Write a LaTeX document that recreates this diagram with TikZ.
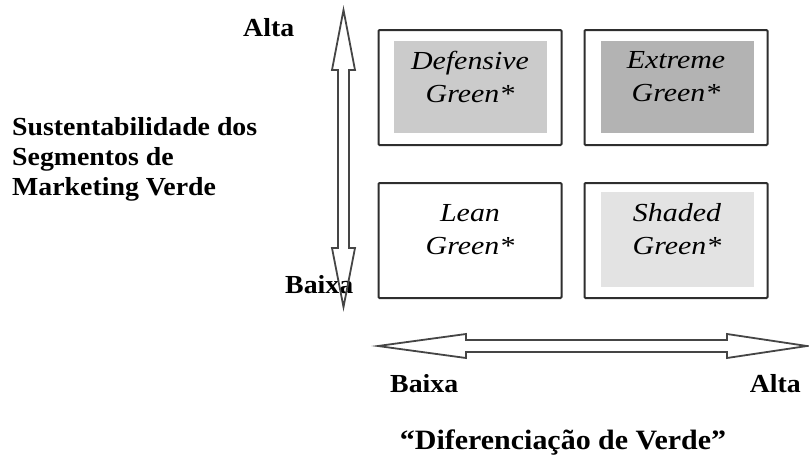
\documentclass[tikz,border=0pt]{standalone}
\usepackage{fontspec}
\setmainfont{Liberation Serif}
\newfontfamily\lblfont{Liberation Serif}[FakeStretch=1.07]
\newfontfamily\cellfont{Liberation Serif}[FakeStretch=1.15]
\definecolor{defgray}{HTML}{CBCBCB}
\definecolor{extgray}{HTML}{B3B3B3}
\definecolor{shdgray}{HTML}{E3E3E3}
\definecolor{edgegray}{HTML}{2E2E2E}
\definecolor{arrowgray}{HTML}{454545}
\begin{document}
\begin{tikzpicture}[x=1pt,y=-1pt,
  outerbox/.style={draw=edgegray,line width=2pt,rounded corners=1pt,minimum width=183pt,minimum height=115pt,inner sep=0pt},
  innerbox/.style={draw=none,minimum width=153pt,minimum height=92pt,inner sep=0pt},
  celltext/.style={font=\cellfont\itshape\fontsize{26}{33}\selectfont,align=center,inner sep=0pt},
  lbl/.style={font=\lblfont\bfseries\fontsize{26}{30}\selectfont,inner sep=0pt},
  titlelbl/.style={font=\lblfont\bfseries\fontsize{28}{33}\selectfont,inner sep=0pt},
  blockarrow/.style={draw=arrowgray,line width=1.8pt,line join=miter}
]
\useasboundingbox (0,0) rectangle (809,458);

% quadrant boxes
\node[outerbox] (dg) at (470,87.5) {};
\node[innerbox,fill=defgray] (dgi) at (470.5,87) {};
\node[celltext] (dgt) at (470,77) {Defensive\\Green*};

\node[outerbox] (eg) at (676,87.5) {};
\node[innerbox,fill=extgray] (egi) at (677,87) {};
\node[celltext] (egt) at (676,77) {Extreme\\Green*};

\node[outerbox] (lg) at (470,240.5) {};
\node[celltext] (lgt) at (470,230) {Lean\\Green*};

\node[outerbox] (sg) at (676,240.5) {};
\node[innerbox,fill=shdgray,minimum height=95pt] (sgi) at (677,239.5) {};
\node[celltext] (sgt) at (677,229.5) {Shaded\\Green*};

% labels
\node[lbl,anchor=base west] (vhigh) at (243,36) {Alta};
\node[lbl,anchor=base west,align=left] (vtitle) at (12,195) {Sustentabilidade dos\\Segmentos de\\Marketing Verde};
\node[lbl,anchor=base west] (vlow) at (285,293) {Baixa};
\node[lbl,anchor=base west] (hlow) at (390,392) {Baixa};
\node[lbl,anchor=base east] (hhigh) at (801,392) {Alta};
\node[titlelbl,anchor=base] (htitle) at (563,449) {“Diferenciação de Verde”};

% vertical double block arrow
\coordinate (vt) at (343.5,10);
\coordinate (vb) at (343.5,307);
\draw[blockarrow] (vt) -- (355,70) -- (349,70) -- (349,248) -- (355,248) -- (vb)
  -- (332,248) -- (338,248) -- (338,70) -- (332,70) -- cycle;

% horizontal double block arrow
\coordinate (hl) at (378,346);
\coordinate (hr) at (807,346);
\draw[blockarrow] (hl) -- (466,334) -- (466,340) -- (727,340) -- (727,334) -- (hr)
  -- (727,358) -- (727,352) -- (466,352) -- (466,358) -- cycle;
\end{tikzpicture}
\end{document}
